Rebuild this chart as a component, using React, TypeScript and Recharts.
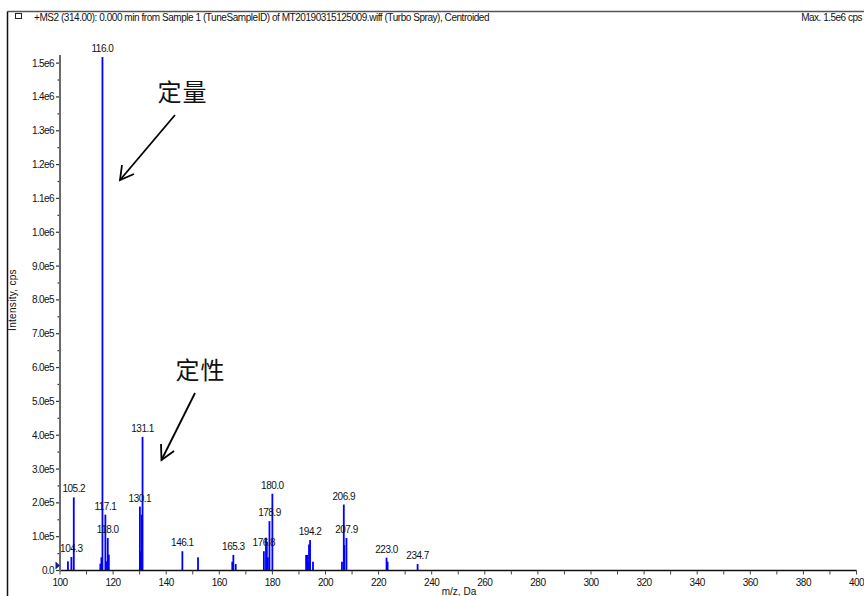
import { ComposedChart, Bar, XAxis, YAxis, LabelList } from 'recharts'

// centroided MS2 peaks (m/z, Da) and their intensities (cps)
const mzValues = [
  103.0, 104.3, 105.2, 115.2, 115.6, 116.0, 117.1, 117.4, 118.0, 118.4,
  130.1, 130.5, 130.8, 131.1, 146.1, 152.0, 164.9, 165.3, 166.2, 176.8,
  177.6, 177.9, 178.3, 178.9, 180.0, 192.7, 193.1, 193.5, 193.8, 194.2,
  195.3, 206.2, 206.9, 207.1, 207.9, 223.0, 223.4, 234.7,
]
const intensities = [
  27000, 40000, 216000, 20000, 39000, 1518000, 165000, 27000, 96000, 47000,
  189000, 57000, 165000, 395000, 57000, 39000, 26000, 46000, 19000, 57000,
  97000, 85000, 39000, 146000, 227000, 46000, 46000, 26000, 77000, 90000,
  26000, 26000, 195000, 75000, 96000, 38000, 26000, 19000,
]
// peaks that carry an m/z label
const labeledMz = [
  104.3, 105.2, 116.0, 117.1, 118.0, 130.1, 131.1, 146.1, 165.3, 176.8,
  178.9, 180.0, 194.2, 206.9, 207.9, 223.0, 234.7,
]

const xMajorTicks = [100, 120, 140, 160, 180, 200, 220, 240, 260, 280, 300, 320, 340, 360, 380, 400]
const yMajorTicks = [
  0, 100000, 200000, 300000, 400000, 500000, 600000, 700000,
  800000, 900000, 1000000, 1100000, 1200000, 1300000, 1400000, 1500000,
]

const xTicks = xMajorTicks.flatMap((v) => (v < 400 ? [v, v + 10] : [v]))
const yTicks = yMajorTicks.flatMap((v) => [v, v + 50000]).filter((v) => v <= 1520000)

const peaks = mzValues.map((mz, i) => ({
  mz,
  intensity: intensities[i],
  label: labeledMz.includes(mz) ? mz.toFixed(1) : '',
}))

const FONT = '"Liberation Sans", Arial, sans-serif'
const CJK = '"Noto Sans CJK SC", "Noto Sans CJK JP", sans-serif'

function fmtIntensity(v: number) {
  if (v === 0) return '0.0'
  return v.toExponential(1).replace('e+', 'e')
}

function XTick({ x, y, payload }: any) {
  const major = payload.value % 20 === 0
  return (
    <g>
      <line x1={x} y1={y} x2={x} y2={y + 4} stroke="#444" strokeWidth={1} />
      {major && (
        <text x={x} y={y + 15} textAnchor="middle" fontSize={10} fontFamily={FONT} letterSpacing={-0.5} fill="#111">
          {payload.value}
        </text>
      )}
    </g>
  )
}

function YTick({ x, y, payload }: any) {
  const major = Math.round(payload.value) % 100000 === 0
  return (
    <g>
      <line x1={x} y1={y} x2={x - (major ? 4 : 2.5)} y2={y} stroke="#333" strokeWidth={1.2} />
      {major && (
        <text x={x - 6} y={y + 3.5} textAnchor="end" fontSize={10} fontFamily={FONT} letterSpacing={-0.6} fill="#111">
          {fmtIntensity(payload.value)}
        </text>
      )}
    </g>
  )
}

// thin stick centred on the peak's m/z
function Stick({ x, y, width, height }: any) {
  const cx = x + width / 2
  return <rect x={cx - 0.9} y={y} width={1.8} height={height} fill="#0000ff" />
}

function PeakLabel({ x, y, width, value }: any) {
  if (!value) return null
  return (
    <text x={x + width / 2} y={y - 5} textAnchor="middle" fontSize={10} fontFamily={FONT} letterSpacing={-0.5} fill="#111">
      {value}
    </text>
  )
}

export default function App() {
  return (
    <div style={{ position: 'absolute', left: 0, top: 0, width: 864, height: 596, background: '#fff', overflow: 'hidden' }}>
      <ComposedChart
        width={864}
        height={596}
        data={peaks}
        margin={{ top: 55, right: 7.5, bottom: 5.5, left: 0 }}
      >
        <XAxis
          dataKey="mz"
          type="number"
          domain={[100, 400]}
          ticks={xTicks}
          interval={0}
          height={20}
          axisLine={{ stroke: '#111', strokeWidth: 1.5 }}
          tickLine={false}
          tickSize={0}
          tickMargin={0}
          tick={<XTick />}
          allowDataOverflow
        />
        <YAxis
          type="number"
          domain={[0, 1524000]}
          ticks={yTicks}
          interval={0}
          width={60}
          axisLine={{ stroke: '#6b6b6b', strokeWidth: 2 }}
          tickLine={false}
          tickSize={0}
          tickMargin={0}
          tick={<YTick />}
          allowDataOverflow
        />
        <Bar dataKey="intensity" fill="#0000ff" barSize={2} shape={<Stick />} isAnimationActive={false}>
          <LabelList dataKey="label" content={<PeakLabel />} />
        </Bar>
      </ComposedChart>

      <svg width={864} height={596} style={{ position: 'absolute', left: 0, top: 0, pointerEvents: 'none' }}>
        {/* panel frame */}
        <line x1={7.5} y1={11.5} x2={864} y2={11.5} stroke="#555" strokeWidth={1.5} />
        <line x1={7.5} y1={11.5} x2={7.5} y2={596} stroke="#111" strokeWidth={1.5} />
        <rect x={15.5} y={13.5} width={6} height={5} fill="none" stroke="#222" strokeWidth={1} />
        <text x={34} y={21} fontSize={10} fontFamily={FONT} letterSpacing={-0.45} fill="#111">
          +MS2 (314.00): 0.000 min from Sample 1 (TuneSampleID) of MT20190315125009.wiff (Turbo Spray), Centroided
        </text>
        <text x={862} y={21} textAnchor="end" fontSize={10} fontFamily={FONT} letterSpacing={-0.5} fill="#111">
          Max. 1.5e6 cps
        </text>

        {/* y axis spine */}
        <line x1={60} y1={55} x2={60} y2={571} stroke="#6b6b6b" strokeWidth={2} />

        {/* axis titles */}
        <text
          transform="translate(16,300) rotate(-90)"
          textAnchor="middle"
          fontSize={10}
          fontFamily={FONT}
          letterSpacing={0.3}
          fill="#111"
        >
          Intensity, cps
        </text>
        <text x={459} y={594.5} textAnchor="middle" fontSize={10} fontFamily={FONT} fill="#111">
          m/z, Da
        </text>

        {/* origin marker */}
        <polygon points="55.5,561.5 60,565.5 55.5,569.5" fill="#1a1a8c" />

        {/* annotations */}
        <text x={182.5} y={101} textAnchor="middle" fontSize={24} fontFamily={CJK} letterSpacing={1} fill="#111">
          定量
        </text>
        <line x1={175} y1={115} x2={120} y2={180} stroke="#000" strokeWidth={1.8} />
        <polyline points="122,165 120,180 134,174" fill="none" stroke="#000" strokeWidth={1.8} />

        <text x={200.5} y={379} textAnchor="middle" fontSize={24} fontFamily={CJK} letterSpacing={1} fill="#111">
          定性
        </text>
        <line x1={195} y1={393} x2={161.5} y2={460} stroke="#000" strokeWidth={1.8} />
        <polyline points="161,444 161.5,460 174,451" fill="none" stroke="#000" strokeWidth={1.8} />
      </svg>
    </div>
  )
}
